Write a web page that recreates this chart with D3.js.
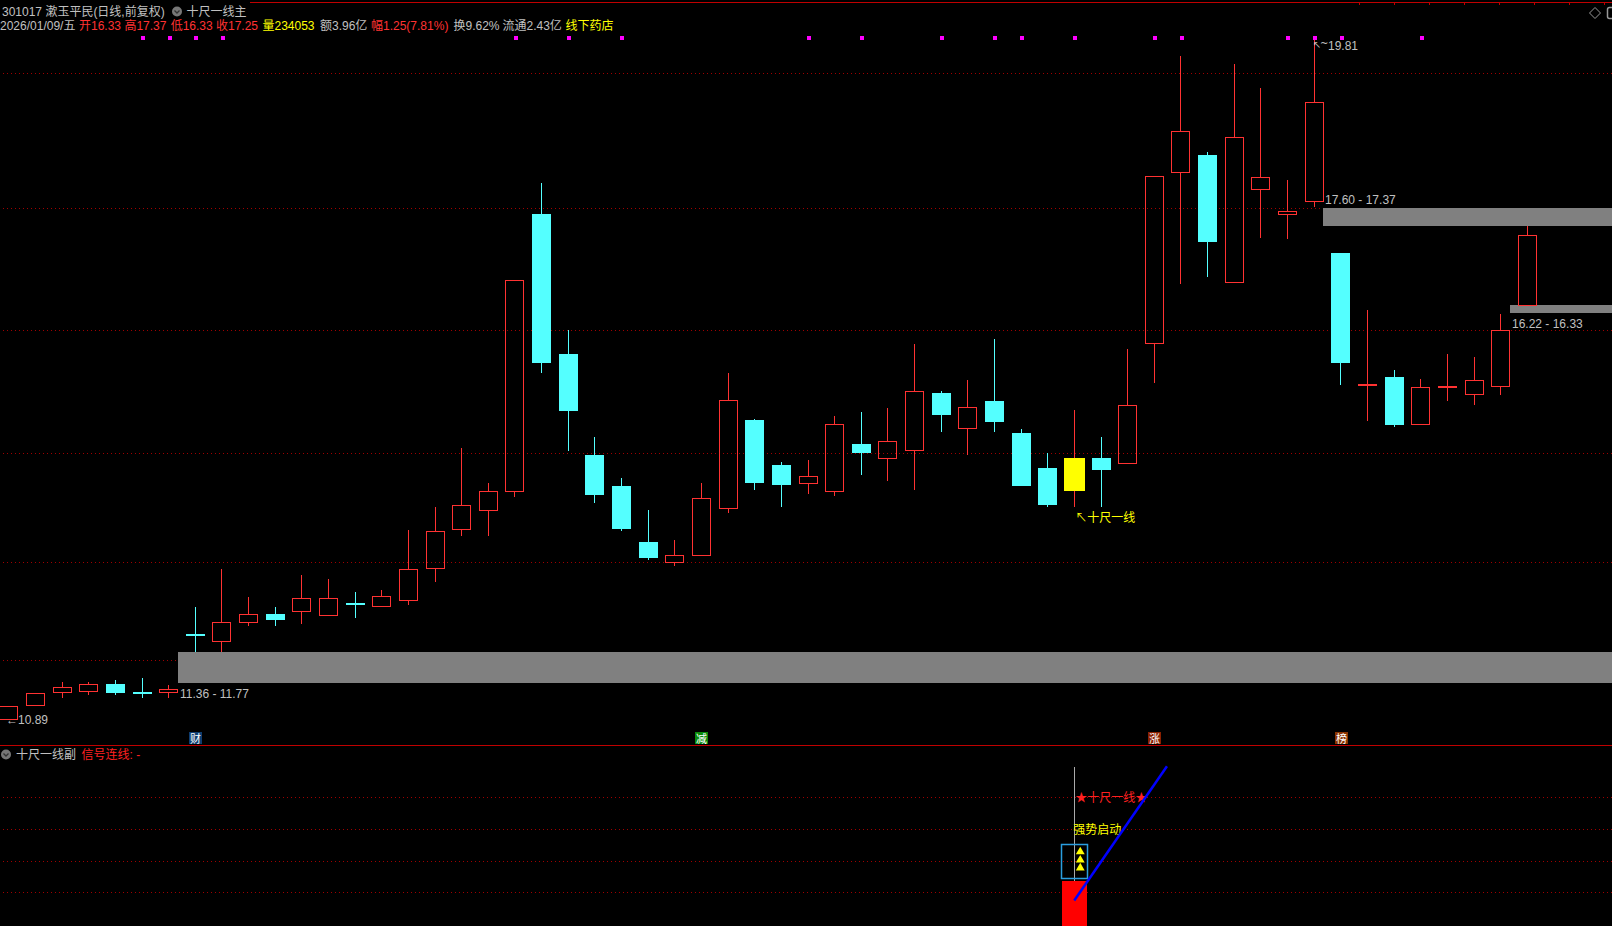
<!DOCTYPE html>
<html><head><meta charset="utf-8">
<script src="https://cdn.jsdelivr.net/npm/d3@7/dist/d3.min.js"></script>
<style>
html,body{margin:0;padding:0;background:#000;overflow:hidden}
svg{display:block}
</style></head><body>
<svg id="c" width="1612" height="926"></svg>
<script>
// ---------------- data ----------------
const candleOpen  = [10.89,11.07,11.24,11.26,11.35,11.25,11.24,12.01,11.92,12.17,12.27,12.31,12.26,12.41,12.38,12.45,12.87,13.38,13.63,13.88,17.52,15.69,14.36,13.95,13.22,12.95,13.04,13.66,14.82,14.23,13.99,13.88,14.50,14.32,14.43,15.17,14.71,15.07,14.65,14.19,13.88,14.32,14.25,15.83,18.07,18.30,16.63,17.85,17.53,17.70,17.01,15.28,15.38,14.76,15.26,15.16,15.26,16.33];
const candleHigh  = [11.06,11.23,11.38,11.38,11.40,11.43,11.34,12.36,12.86,12.49,12.36,12.78,12.73,12.56,12.59,13.37,13.68,14.45,13.99,16.66,17.93,16.00,14.60,14.06,13.64,13.24,13.99,15.44,14.83,14.26,14.29,14.87,14.92,14.98,15.82,15.20,15.34,15.88,14.70,14.38,14.95,14.60,15.75,18.02,19.60,18.34,19.50,19.18,17.97,19.81,17.01,16.26,15.48,15.36,15.69,15.64,16.21,17.37];
const candleLow   = [10.89,11.07,11.17,11.21,11.20,11.17,11.17,11.77,11.77,12.11,12.11,12.14,12.24,12.22,12.36,12.39,12.69,13.29,13.29,13.81,15.44,14.41,13.73,13.36,12.98,12.90,13.04,13.60,13.90,13.68,13.84,13.82,14.10,14.02,13.90,14.66,14.36,14.66,13.97,13.68,13.68,13.68,14.25,15.31,16.61,16.70,16.63,17.21,17.19,17.61,15.28,14.81,14.72,14.76,15.07,15.01,15.15,16.33];
const candleClose = [11.06,11.23,11.31,11.35,11.24,11.24,11.28,12.00,12.17,12.27,12.21,12.48,12.48,12.40,12.51,12.86,13.36,13.70,13.88,16.66,15.58,14.95,13.84,13.40,13.02,13.04,13.79,15.08,14.01,13.98,14.08,14.76,14.40,14.54,15.20,14.90,14.99,14.80,13.97,13.72,14.32,14.18,15.02,18.02,18.61,17.17,18.53,18.01,17.57,18.99,15.58,15.29,14.76,15.25,15.27,15.34,16.00,17.25];
const signalIndex = 40;                       // 十尺一线 candle
const markerDots  = [5,6,7,8,19,21,23,30,32,35,37,38,40,43,44,48,49,50,53];
const eventIdx    = [7,26,43,50];
const eventText   = ["财","减","涨","榜"];
const eventColor  = ["#0f3d70","#0a8a0a","#8a2000","#8a3300"];
const gridPrices  = [19.37,17.60,16.00,14.39,12.95,11.66];
const bandFrom    = [6,49,56];
const bandHigh    = [11.77,17.60,16.33];
const bandLow     = [11.36,17.37,16.22];
const bandLabel   = ["11.36 - 11.77","17.60 - 17.37","16.22 - 16.33"];
const bandLabelPos= ["below","above","below"];
const priceMin = 10.89, priceMax = 19.81;
const minIdx = 0, maxIdx = 49;
// sub panel (十尺一线副)
const subGrid     = [1,2,3,4];
const subBarTop   = 1.36;
const subBoxRange = [1.47,2.54];
const subArrows   = [2.28,2.02,1.77];
const subStickTop = 4.97;
const subLineIdx  = [40,43.48];
const subLineVal  = [0.74,4.98];

// ---------------- scales ----------------
const W = 1612, H = 926;
const svg = d3.select("#c");
svg.append("rect").attr("width",W).attr("height",H).attr("fill","#000");

const slots = d3.range(61);
const x = d3.scaleBand().domain(slots).range([-4.66, -4.66 + 61*26.64]).padding(0);
const cx = i => x(i) + x.bandwidth()/2;
const xAt = v => d3.scaleLinear().domain([0,1]).range([cx(0),cx(1)])(v);
const y = d3.scaleLinear().domain([priceMin, priceMax]).range([719, 40]);
const ys = d3.scaleLinear().domain([0,5]).range([924, 765.7]);
const half = 9.35;

const FONT_NUM = "'Liberation Sans','Noto Sans CJK SC',sans-serif";
const FONT_CJK = "'Liberation Sans','Noto Sans CJK SC',sans-serif";
const RED = "#ff3232", CYAN = "#54ffff", GRAY = "#c0c0c0", YEL = "#ffff00";

// ---------------- frame lines ----------------
const g = svg.append("g").attr("shape-rendering","crispEdges");
g.append("line").attr("x1",250).attr("x2",W).attr("y1",2.5).attr("y2",2.5).attr("stroke","#c00000");
g.selectAll(".tt").data(d3.range(1359, W, 35)).join("line")
  .attr("x1",d=>d+0.5).attr("x2",d=>d+0.5).attr("y1",2).attr("y2",5).attr("stroke","#c00000");
g.append("line").attr("x1",0).attr("x2",W).attr("y1",745.5).attr("y2",745.5).attr("stroke","#c00000");

// grid (main)
g.selectAll(".gl").data(gridPrices).join("line")
  .attr("x1",3).attr("x2",W).attr("y1",d=>Math.round(y(d))+0.5).attr("y2",d=>Math.round(y(d))+0.5)
  .attr("stroke","#a00000").attr("stroke-dasharray","1,3");
// grid (sub)
g.selectAll(".gs").data(subGrid).join("line")
  .attr("x1",3).attr("x2",W).attr("y1",d=>Math.round(ys(d))+0.5).attr("y2",d=>Math.round(ys(d))+0.5)
  .attr("stroke","#a00000").attr("stroke-dasharray","1,3");

// ---------------- bands ----------------
bandFrom.forEach((bi,k)=>{
  const x0 = Math.round(cx(bi)+half);
  const yt = Math.round(y(bandHigh[k])), yb = Math.round(y(bandLow[k]));
  const top = Math.min(yt,yb), bot = Math.max(yt,yb);
  g.append("rect").attr("x",x0).attr("y",top).attr("width",W-x0).attr("height",Math.max(bot-top,1)).attr("fill","#808080");
  const ty = bandLabelPos[k]==="above" ? top-4 : bot+14.5;
  svg.append("text").attr("x",x0+2).attr("y",ty).text(bandLabel[k])
    .attr("fill",GRAY).attr("font-size",12).attr("font-family",FONT_NUM);
});

// ---------------- candles ----------------
const idx = d3.range(candleOpen.length);
const cg = svg.append("g").attr("shape-rendering","crispEdges");
idx.forEach(i=>{
  const o=candleOpen[i], c=candleClose[i], h=candleHigh[i], l=candleLow[i];
  const up = c>=o;
  const col = up ? RED : CYAN;
  const xc = Math.round(cx(i)-half);
  const xm = xc + 9.5;
  const yT = Math.round(y(Math.max(o,c))), yB = Math.round(y(Math.min(o,c)));
  const yH = Math.round(y(h)), yL = Math.round(y(l));
  const isSignal = i===signalIndex;
  const wickCol = isSignal ? RED : col;
  if (yB - yT < 2) {
    cg.append("line").attr("x1",xm).attr("x2",xm).attr("y1",yH).attr("y2",yL).attr("stroke",col);
    cg.append("rect").attr("x",xc).attr("y",yT).attr("width",19).attr("height",2).attr("fill",col);
    return;
  }
  if (yH < yT) cg.append("line").attr("x1",xm).attr("x2",xm).attr("y1",yH).attr("y2",yT).attr("stroke",wickCol);
  if (yL > yB) cg.append("line").attr("x1",xm).attr("x2",xm).attr("y1",yB).attr("y2",yL).attr("stroke",wickCol);
  if (isSignal) {
    cg.append("rect").attr("x",xc-1).attr("y",yT).attr("width",21).attr("height",yB-yT).attr("fill",YEL);
  } else if (up) {
    cg.append("rect").attr("x",xc+0.5).attr("y",yT+0.5).attr("width",18).attr("height",yB-yT).attr("fill","none").attr("stroke",col);
  } else {
    cg.append("rect").attr("x",xc).attr("y",yT).attr("width",19).attr("height",yB-yT+1).attr("fill",col);
  }
});

// magenta dots
cg.selectAll(".md").data(markerDots).join("rect")
  .attr("x",d=>Math.round(cx(d))-1.5).attr("y",35.5).attr("width",4).attr("height",4).attr("fill","#ff00ff");

// high / low markers
const hx = cx(maxIdx), hy = y(candleHigh[maxIdx]);
svg.append("text").attr("x",hx-1).attr("y",hy+8).text("↖")
  .attr("fill",GRAY).attr("font-size",10).attr("font-family","'DejaVu Sans',sans-serif");
svg.append("text").attr("x",hx+6).attr("y",hy+7).text("~")
  .attr("fill",GRAY).attr("font-size",10).attr("font-family","'DejaVu Sans',sans-serif");
svg.append("text").attr("x",hx+14).attr("y",hy+9.5).text("19.81")
  .attr("fill",GRAY).attr("font-size",12).attr("font-family",FONT_NUM);
svg.append("text").attr("x",6).attr("y",y(candleLow[minIdx])+5).text("←10.89")
  .attr("fill",GRAY).attr("font-size",12).attr("font-family",FONT_NUM);

// signal annotation
svg.append("text").attr("x",cx(signalIndex)+1).attr("y",y(candleLow[signalIndex])+15).text("↖十尺一线")
  .attr("fill",YEL).attr("font-size",12).attr("font-family","'Noto Sans CJK SC',sans-serif");

// event boxes
eventIdx.forEach((ei,k)=>{
  const xx = Math.round(cx(ei))-6;
  svg.append("rect").attr("x",xx).attr("y",732).attr("width",13).attr("height",12).attr("fill",eventColor[k]);
  svg.append("text").attr("x",xx+6.5).attr("y",742.5).attr("text-anchor","middle").text(eventText[k])
    .attr("fill","#fff").attr("font-size",11).attr("font-family","'Noto Sans CJK SC',sans-serif");
});

// ---------------- header ----------------
const hdr = svg.append("g").attr("font-size",12).attr("font-family",FONT_CJK);
hdr.append("text").attr("x",2).attr("y",16).attr("fill",GRAY).text("301017 漱玉平民(日线,前复权)");
hdr.append("circle").attr("cx",177).attr("cy",11.5).attr("r",5).attr("fill","#777");
hdr.append("path").attr("d","M174.5,10.5 L177,13 L179.5,10.5").attr("stroke","#333").attr("stroke-width",1.3).attr("fill","none");
hdr.append("text").attr("x",186.5).attr("y",16).attr("fill",GRAY).text("十尺一线主");
const line2 = [
  {t:"2026/01/09/五", x:0, c:GRAY},
  {t:"开16.33", x:79, c:RED},
  {t:"高17.37", x:124.4, c:RED},
  {t:"低16.33", x:170.7, c:RED},
  {t:"收17.25", x:216, c:RED},
  {t:"量234053", x:262.5, c:YEL},
  {t:"额3.96亿", x:320, c:GRAY},
  {t:"幅1.25(7.81%)", x:371, c:RED},
  {t:"换9.62%", x:453.5, c:GRAY},
  {t:"流通2.43亿", x:502.5, c:GRAY},
  {t:"线下药店", x:565.5, c:YEL}
];
hdr.selectAll(".l2").data(line2).join("text").attr("x",d=>d.x).attr("y",30).attr("fill",d=>d.c).text(d=>d.t);

// top-right icons
svg.append("path").attr("d","M1595,7.5 L1600.5,13 L1595,18.5 L1589.5,13 Z").attr("fill","none").attr("stroke","#999");
svg.append("rect").attr("x",1607.5).attr("y",7.5).attr("width",10).attr("height",11).attr("rx",2).attr("fill","none").attr("stroke","#999").attr("stroke-width",1.5);

// ---------------- sub panel ----------------
const sp = svg.append("g");
sp.append("circle").attr("cx",6).attr("cy",754.5).attr("r",5).attr("fill","#777");
sp.append("path").attr("d","M3.5,753.5 L6,756 L8.5,753.5").attr("stroke","#333").attr("stroke-width",1.3).attr("fill","none");
sp.append("text").attr("x",16).attr("y",759).attr("fill",GRAY).attr("font-size",12).attr("font-family",FONT_CJK).text("十尺一线副");
sp.append("text").attr("x",81.5).attr("y",759).attr("fill","#ff2020").attr("font-size",12).attr("font-family",FONT_CJK).text("信号连线: -");

const sx = cx(signalIndex);
sp.append("line").attr("x1",Math.round(sx)+0.5).attr("x2",Math.round(sx)+0.5)
  .attr("y1",ys(subStickTop)).attr("y2",ys(subBarTop)).attr("stroke","#aaa").attr("shape-rendering","crispEdges");
sp.append("rect").attr("x",Math.round(sx)-12).attr("y",Math.round(ys(subBarTop))).attr("width",25)
  .attr("height",H-Math.round(ys(subBarTop))).attr("fill","#ff0000").attr("shape-rendering","crispEdges");
sp.append("rect").attr("x",Math.round(sx)-12.5).attr("y",Math.round(ys(subBoxRange[1]))+0.5).attr("width",26)
  .attr("height",Math.round(ys(subBoxRange[0])-ys(subBoxRange[1]))).attr("fill","none").attr("stroke","#2a9ee0").attr("stroke-width",1.5);
sp.selectAll(".ar").data(subArrows).join("path")
  .attr("transform",d=>`translate(${sx+6},${ys(d)})`)
  .attr("d",d3.symbol(d3.symbolTriangle,34)).attr("fill",YEL);
sp.append("text").attr("x",sx+1).attr("y",ys(4)+4.5).attr("fill","#ff2020").attr("font-size",12)
  .attr("font-family","'Noto Sans CJK SC',sans-serif").text("★十尺一线★");
sp.append("text").attr("x",sx-1).attr("y",ys(3)+4.5).attr("fill",YEL).attr("font-size",12)
  .attr("font-family","'Noto Sans CJK SC',sans-serif").text("强势启动");
sp.append("line").attr("x1",xAt(subLineIdx[0])).attr("y1",ys(subLineVal[0]))
  .attr("x2",xAt(subLineIdx[1])).attr("y2",ys(subLineVal[1])).attr("stroke","#0000ff").attr("stroke-width",2.5);
</script>
</body></html>
